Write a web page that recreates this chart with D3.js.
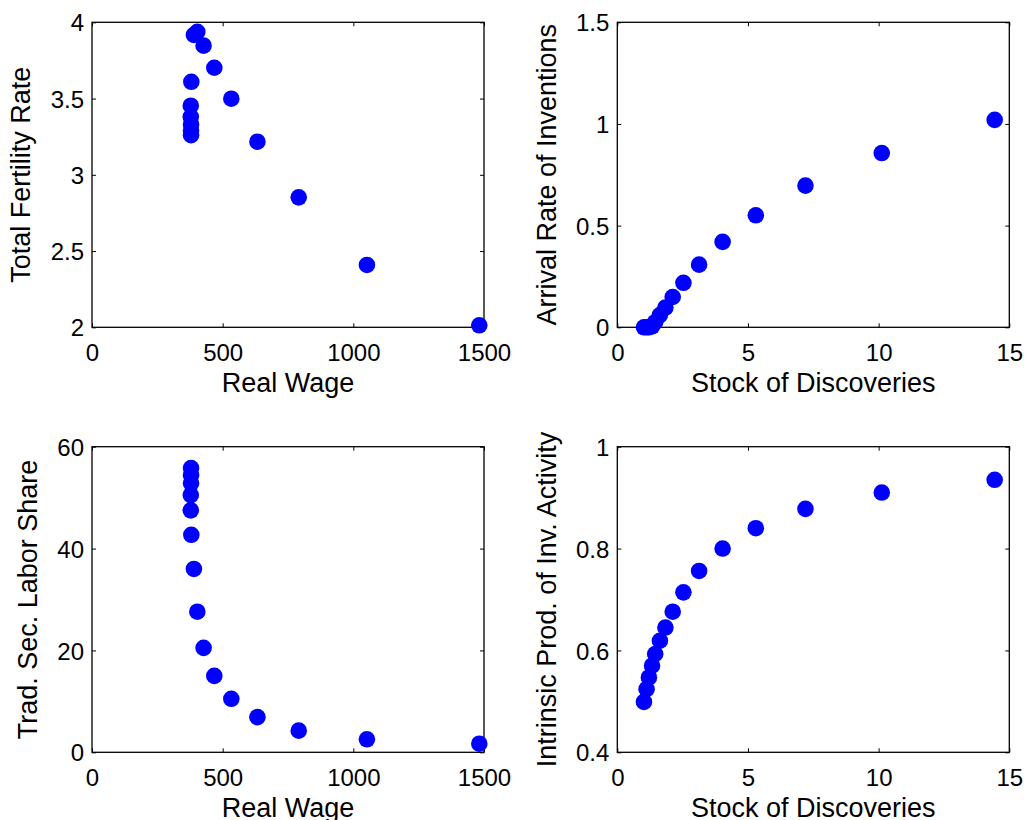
<!DOCTYPE html>
<html>
<head>
<meta charset="utf-8">
<script src="https://cdn.jsdelivr.net/npm/d3@7"></script>
<style>
html,body{margin:0;padding:0;background:#fff;}
svg{display:block;}
text{font-family:"Liberation Sans", Arial, Helvetica, sans-serif;fill:#000;}
</style>
</head>
<body>
<svg id="chart" width="1025" height="820"></svg>
<script>
// Data
const realWage = [379, 379, 379, 378, 378, 380, 390, 403, 427, 468, 533, 633, 791, 1052, 1482];
const fertility = [3.26, 3.29, 3.33, 3.38, 3.453, 3.61, 3.917, 3.938, 3.847, 3.702, 3.499, 3.217, 2.852, 2.409, 2.013];
const laborShare = [55.8, 54.4, 52.8, 50.5, 47.5, 42.7, 36.0, 27.6, 20.5, 15.0, 10.5, 6.9, 4.25, 2.55, 1.69];
const discoveries = [1.02, 1.12, 1.21, 1.33, 1.45, 1.63, 1.84, 2.12, 2.53, 3.13, 4.03, 5.30, 7.20, 10.12, 14.44];
const arrivalRate = [0, 0, 0, 0.005, 0.025, 0.06, 0.097, 0.149, 0.219, 0.308, 0.420, 0.551, 0.697, 0.857, 1.020];
const intrinsicProd = [0.499, 0.524, 0.547, 0.570, 0.593, 0.619, 0.645, 0.676, 0.714, 0.756, 0.800, 0.840, 0.878, 0.910, 0.935];

const wageTicks = [0, 500, 1000, 1500];
const fertTicks = [2, 2.5, 3, 3.5, 4];
const discTicks = [0, 5, 10, 15];
const arrTicks = [0, 0.5, 1, 1.5];
const laborTicks = [0, 20, 40, 60];
const prodTicks = [0.4, 0.6, 0.8, 1];

const panels = [
  {x: wageTicks, y: fertTicks, xs: realWage, ys: fertility, xd: [0,1500], yd: [2,4],
   xl: "Real Wage", yl: "Total Fertility Rate", box: [92, 484, 22.3, 327.3], ylx: 30},
  {x: discTicks, y: arrTicks, xs: discoveries, ys: arrivalRate, xd: [0,15], yd: [0,1.5],
   xl: "Stock of Discoveries", yl: "Arrival Rate of Inventions", box: [617.3, 1009.3, 22.3, 327.3], ylx: 556},
  {x: wageTicks, y: laborTicks, xs: realWage, ys: laborShare, xd: [0,1500], yd: [0,60],
   xl: "Real Wage", yl: "Trad. Sec. Labor Share", box: [92, 484, 446.7, 752.3], ylx: 37},
  {x: discTicks, y: prodTicks, xs: discoveries, ys: intrinsicProd, xd: [0,15], yd: [0.4,1],
   xl: "Stock of Discoveries", yl: "Intrinsic Prod. of Inv. Activity", box: [617.3, 1009.3, 446.7, 752.3], ylx: 556}
];

const svg = d3.select("#chart");
const tickFont = 24, labelFont = 27, tickLen = 4;

panels.forEach(p => {
  const [x0, x1, y0, y1] = p.box;
  const xs = d3.scaleLinear().domain(p.xd).range([x0, x1]);
  const ys = d3.scaleLinear().domain(p.yd).range([y1, y0]);
  const g = svg.append("g");

  const fmt = d => String(d);
  g.append("g").attr("transform", `translate(0,${y1})`)
    .call(d3.axisBottom(xs).tickValues(p.x).tickFormat(fmt).tickSizeInner(-tickLen).tickSizeOuter(0).tickPadding(17))
    .call(a => a.selectAll("text").attr("font-size", tickFont).attr("dy", "0.71em"));
  g.append("g").attr("transform", `translate(0,${y0})`)
    .call(d3.axisTop(xs).tickValues(p.x).tickFormat("").tickSizeInner(-tickLen).tickSizeOuter(0));
  g.append("g").attr("transform", `translate(${x0},0)`)
    .call(d3.axisLeft(ys).tickValues(p.y).tickFormat(fmt).tickSizeInner(-tickLen).tickSizeOuter(0).tickPadding(8))
    .call(a => a.selectAll("text").attr("font-size", tickFont).attr("dy", "0.36em"));
  g.append("g").attr("transform", `translate(${x1},0)`)
    .call(d3.axisRight(ys).tickValues(p.y).tickFormat("").tickSizeInner(-tickLen).tickSizeOuter(0));
  g.selectAll(".domain").remove();
  g.selectAll(".tick line").attr("stroke", "#000").attr("stroke-width", 1);
  g.selectAll("text").attr("font-family", '"Liberation Sans", Arial, sans-serif').attr("fill", "#000");

  g.append("rect").attr("x", x0).attr("y", y0).attr("width", x1 - x0).attr("height", y1 - y0)
    .attr("fill", "none").attr("stroke", "#000").attr("stroke-width", 1.3);

  g.append("g").selectAll("circle").data(p.xs.map((v, i) => [v, p.ys[i]])).join("circle")
    .attr("cx", d => xs(d[0])).attr("cy", d => ys(d[1])).attr("r", 8.3).attr("fill", "#0000ff");

  g.append("text").attr("x", (x0 + x1) / 2).attr("y", y1 + 65).attr("text-anchor", "middle")
    .attr("font-size", labelFont).text(p.xl);
  g.append("text").attr("transform", `translate(${p.ylx},${(y0 + y1) / 2}) rotate(-90)`)
    .attr("text-anchor", "middle").attr("font-size", labelFont).text(p.yl);
});
</script>
</body>
</html>
